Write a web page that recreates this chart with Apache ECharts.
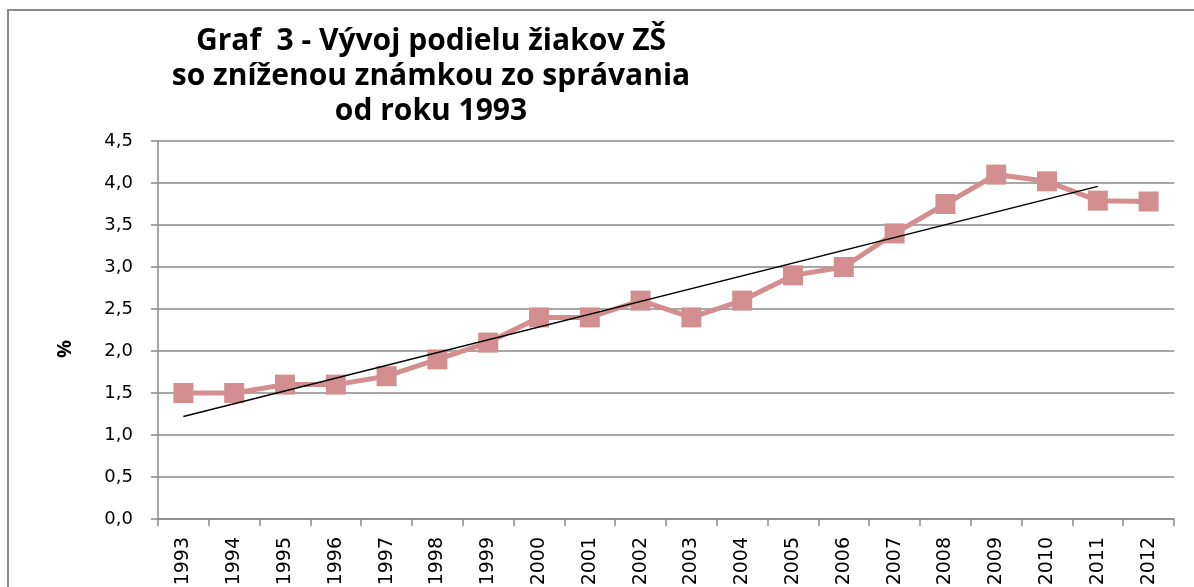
<!DOCTYPE html>
<html>
<head>
<meta charset="utf-8">
<script src="https://cdn.jsdelivr.net/npm/echarts@6/dist/echarts.min.js"></script>
<style>
  html, body { margin: 0; padding: 0; background: #fff; }
  #chart { width: 1194px; height: 587px; }
</style>
</head>
<body>
<div id="chart"></div>
<script>
// data
const years = ["1993", "1994", "1995", "1996", "1997", "1998", "1999", "2000", "2001", "2002",
  "2003", "2004", "2005", "2006", "2007", "2008", "2009", "2010", "2011", "2012"];
const share = [1.5, 1.5, 1.6, 1.6, 1.7, 1.9, 2.1, 2.4, 2.4, 2.6,
  2.4, 2.6, 2.9, 3.0, 3.4, 3.75, 4.1, 4.02, 3.79, 3.78];
// linear trend line, only its two end points (1993 and 2011)
const trend = [1.22, null, null, null, null, null, null, null, null, null,
  null, null, null, null, null, null, null, null, 3.96, null];
const yTicks = ["0,0", "0,5", "1,0", "1,5", "2,0", "2,5", "3,0", "3,5", "4,0", "4,5"];

const chart = echarts.init(document.getElementById("chart"));
const titleFont = "'Open Sans', sans-serif";
const labelFont = "'DejaVu Sans', sans-serif";

chart.setOption({
  animation: false,
  textStyle: { fontFamily: labelFont },
  title: {
    text: "Graf  3 - Vývoj podielu žiakov ZŠ\nso zníženou známkou zo správania\nod roku 1993",
    left: 426,
    top: 19,
    textAlign: "center",
    textStyle: { fontFamily: titleFont, fontSize: 30, fontWeight: "bold", color: "#000", lineHeight: 35 }
  },
  graphic: [
    {
      type: "rect",
      shape: { x: 8, y: 10, width: 1300, height: 700 },
      style: { fill: "none", stroke: "#8a8a8a", lineWidth: 2 },
      silent: true
    }
  ],
  grid: { left: 158, right: 20, top: 141, bottom: 68, outerBoundsMode: "none", containLabel: false },
  xAxis: {
    type: "category",
    data: years,
    boundaryGap: true,
    axisLine: { lineStyle: { color: "#8a8a8a", width: 1.5 } },
    axisTick: { show: true, length: 7, lineStyle: { color: "#8a8a8a", width: 1.5 } },
    axisLabel: { rotate: 90, color: "#000", fontSize: 19, margin: 18, fontFamily: labelFont }
  },
  yAxis: {
    type: "value",
    min: 0,
    max: 4.5,
    interval: 0.5,
    name: "%",
    nameLocation: "middle",
    nameGap: 83,
    nameRotate: 90,
    nameTextStyle: {
      fontSize: 20, fontWeight: "bold", color: "#000", fontFamily: titleFont,
      padding: [0, 38, 0, 0]
    },
    axisLine: { show: true, lineStyle: { color: "#8a8a8a", width: 1.5 } },
    axisTick: { show: true, length: 7, lineStyle: { color: "#8a8a8a", width: 1.5 } },
    splitLine: { lineStyle: { color: "#8a8a8a", width: 1.5 } },
    axisLabel: {
      color: "#000", fontSize: 18, margin: 25, fontFamily: labelFont,
      formatter: (v) => yTicks[Math.round(v * 2)]
    }
  },
  series: [
    {
      type: "line",
      data: share,
      symbol: "rect",
      symbolSize: 20,
      lineStyle: { color: "#d38f8f", width: 5 },
      itemStyle: { color: "#d38f8f" },
      z: 2
    },
    {
      type: "line",
      data: trend,
      connectNulls: true,
      symbol: "none",
      lineStyle: { color: "#000", width: 1.5 },
      z: 3
    }
  ]
});
</script>
</body>
</html>
